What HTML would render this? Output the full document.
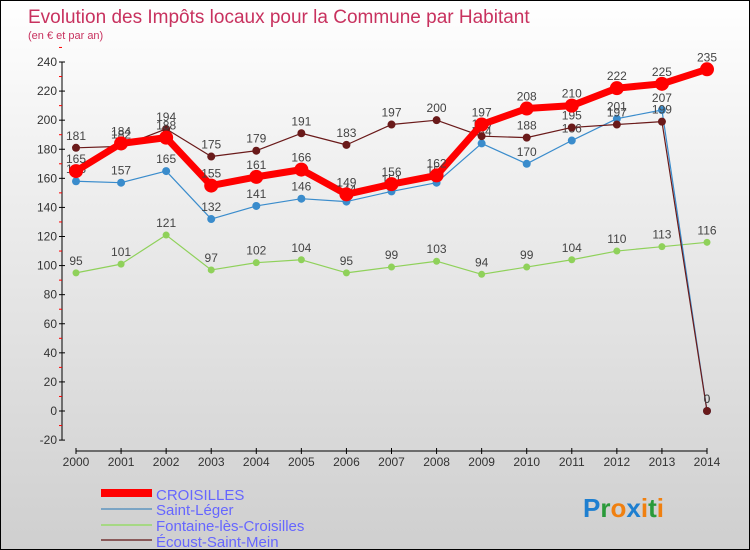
<!DOCTYPE html>
<html><head><meta charset="utf-8"><style>
body{margin:0;}
#c{width:750px;height:550px;position:relative;box-sizing:border-box;border:1px solid #000;background:linear-gradient(#fff,#f0f0f0 30%,#cfcfcf);font-family:"Liberation Sans",sans-serif;overflow:hidden}
svg text{font-family:"Liberation Sans",sans-serif}
</style></head><body>
<div id="c">
<svg id="s" width="750" height="550">
<text x="27" y="22" font-size="19" fill="#c8325f">Evolution des Impôts locaux pour la Commune par Habitant</text>
<text x="27" y="38" font-size="11" fill="#c8325f">(en € et par an)</text>
<g id="axes"></g><g id="series"></g>
<g>
<rect x="100" y="488" width="51" height="8" fill="#f00"/>
<text x="155" y="499" font-size="15" fill="#6666ff">CROISILLES</text>
<rect x="100" y="507" width="51" height="2" fill="#7ba4c4"/>
<text x="155" y="514" font-size="15" fill="#6666ff">Saint-Léger</text>
<rect x="100" y="523" width="51" height="2" fill="#a6d884"/>
<text x="155" y="530" font-size="15" fill="#6666ff">Fontaine-lès-Croisilles</text>
<rect x="100" y="538" width="51" height="2" fill="#8a5a5a"/>
<text x="155" y="546" font-size="15" fill="#6666ff">Écoust-Saint-Mein</text>
</g>
<text x="582" y="516" font-size="26" font-weight="bold"><tspan fill="#1e7fd0">P</tspan><tspan fill="#2a9a3a">r</tspan><tspan fill="#f08010">o</tspan><tspan fill="#1e7fd0">x</tspan><tspan fill="#f08010">i</tspan><tspan fill="#2a9a3a">t</tspan><tspan fill="#f08010">i</tspan></text>
</svg></div>
<script>
const years=[2000,2001,2002,2003,2004,2005,2006,2007,2008,2009,2010,2011,2012,2013,2014];
const yTicks=[-20,0,20,40,60,80,100,120,140,160,180,200,220,240];
const croisilles=[165,184,188,155,161,166,149,156,162,197,208,210,222,225,235];
const saintLeger=[158,157,165,132,141,146,144,151,157,184,170,186,201,207,0];
const fontaine=[95,101,121,97,102,104,95,99,103,94,99,104,110,113,116];
const ecoust=[181,182,194,175,179,191,183,197,200,189,188,195,197,199,0];
const NS="http://www.w3.org/2000/svg";
const X=i=>75+i*(706-75)/14;
const Y=v=>410-v*(349/240);
function mk(t,a,p){const e=document.createElementNS(NS,t);for(const k in a)e.setAttribute(k,a[k]);p.appendChild(e);return e;}
const ax=document.getElementById('axes');
const yl=mk('line',{x1:61,x2:61,y1:Y(240),y2:Y(-20),stroke:'#000'},ax);


yTicks.forEach(v=>{
 mk('line',{x1:58,x2:64,y1:Y(v),y2:Y(v),stroke:'#000'},ax);
 mk('line',{x1:58,x2:61,y1:Y(v+10),y2:Y(v+10),stroke:'#f00'},ax);
 const t=mk('text',{x:56,y:Y(v)+4,'font-size':12,fill:'#333','text-anchor':'end'},ax);t.textContent=v;
 
 
});
const xl=mk('line',{x1:X(0),x2:X(14),y1:450,y2:450,stroke:'#000'},ax);


years.forEach((y,i)=>{
 mk('line',{x1:X(i),x2:X(i),y1:447,y2:453,stroke:'#000'},ax);
 const t=mk('text',{x:X(i),y:465,'font-size':12,fill:'#333','text-anchor':'middle'},ax);t.textContent=y;
 
 
});
const sg=document.getElementById('series');
function draw(data,name,color,w,r){
 const g=mk('g',{},sg);
 
 
 const l=mk('polyline',{points:data.map((v,i)=>X(i)+','+Y(v)).join(' '),fill:'none',stroke:color,'stroke-width':w,'stroke-linejoin':'round'},g);
 
 
 data.forEach((v,i)=>{
  const c=mk('circle',{cx:X(i),cy:Y(v),r:r,fill:color},g);
  
  
  const t=mk('text',{x:X(i),y:Y(v)-8,'font-size':12,fill:'#444','text-anchor':'middle'},g);t.textContent=v;
  
  
 });
}
draw(fontaine,'fontaine','#8fd15a',1.2,3.5);
draw(saintLeger,'saint-leger','#3a8ccc',1.2,4);
draw(ecoust,'ecoust','#6a1a1a',1.2,4);
draw(croisilles,'croisilles','#f00',7,7);
</script>
</body></html>
